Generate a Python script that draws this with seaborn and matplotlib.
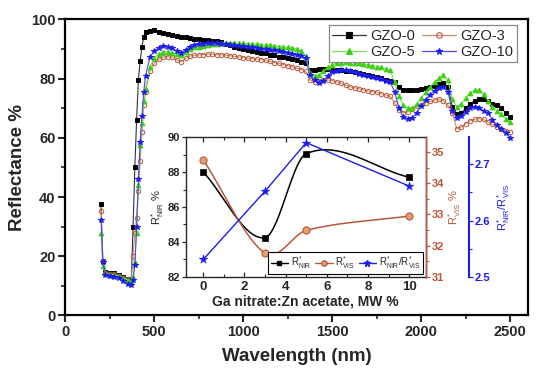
import numpy as np
import pandas as pd
import matplotlib
matplotlib.use("Agg")
import matplotlib.pyplot as plt
import seaborn as sns
from matplotlib.ticker import MultipleLocator
from matplotlib.lines import Line2D

sns.set_style("ticks")
plt.rcParams['font.family'] = ['Liberation Sans', 'DejaVu Sans']
plt.rcParams['mathtext.default'] = 'regular'

# ---------------- main spectra data ----------------
wavelength = [200, 210, 225, 250, 275, 300, 325, 350, 370, 380, 390, 400, 410, 420, 430, 440, 450,
              475, 500, 525, 550, 575, 600, 625, 650, 675, 700, 725, 750, 775, 800, 825, 850, 875,
              900, 925, 950, 975, 1000, 1025, 1050, 1075, 1100, 1125, 1150, 1175, 1200, 1225, 1250,
              1275, 1300, 1325, 1350, 1375, 1400, 1425, 1450, 1475, 1500, 1525, 1550, 1575, 1600,
              1625, 1650, 1675, 1700, 1725, 1750, 1775, 1800, 1825, 1850, 1875, 1900, 1925, 1950,
              1975, 2000, 2025, 2050, 2075, 2100, 2125, 2150, 2175, 2200, 2225, 2250, 2275, 2300,
              2325, 2350, 2375, 2400, 2425, 2450, 2475, 2500]

gzo0 = [37.5, 18.5, 14.7, 14.3, 14.2, 13.6, 13.0, 12.4, 11.9, 30.0, 50.0, 66.0, 79.5, 86.0, 90.8, 94.0, 95.6,
        96.2, 96.3, 95.8, 95.3, 95.0, 94.7, 94.4, 94.1, 93.9, 93.7, 93.5, 93.2, 93.0, 92.9, 92.8, 92.6, 92.2,
        91.8, 91.2, 90.6, 90.2, 89.9, 89.6, 89.3, 89.1, 88.8, 88.5, 88.1, 87.8, 87.4, 87.2, 86.8,
        86.5, 86.2, 85.7, 85.3, 82.9, 83.0, 83.1, 83.1, 83.1, 83.0, 83.0, 82.9, 82.7, 82.5,
        82.3, 82.0, 81.7, 81.3, 81.0, 80.6, 80.1, 79.6, 79.2, 78.8, 77.0, 76.3, 76.1, 76.2,
        76.3, 76.5, 76.8, 77.1, 77.6, 78.3, 78.6, 77.0, 70.5, 68.0, 68.3, 70.0, 71.5, 72.5,
        73.0, 73.2, 72.5, 71.5, 71.0, 70.0, 68.5, 67.1]

gzo3 = [35.2, 18.5, 14.5, 14.1, 14.0, 13.4, 12.8, 12.2, 11.7, 20.0, 28.0, 33.0, 42.0, 52.0, 62.0, 71.0, 75.5,
        82.5, 85.2, 86.6, 87.3, 87.4, 87.2, 86.3, 85.7, 86.8, 87.6, 87.8, 88.0, 88.1, 88.2, 88.2, 88.1, 88.0,
        87.9, 87.7, 87.5, 87.3, 87.1, 86.9, 86.7, 86.6, 86.4, 86.2, 85.8, 85.4, 85.1, 84.7, 84.4,
        84.0, 83.5, 83.0, 82.5, 79.5, 79.0, 79.2, 79.4, 79.5, 79.3, 78.9, 78.4, 77.8, 77.2,
        76.9, 76.5, 76.2, 75.8, 75.6, 75.4, 74.8, 74.5, 74.0, 71.8, 69.5, 68.5, 68.8, 69.8,
        70.6, 71.2, 71.8, 72.3, 72.7, 73.0, 72.5, 71.0, 68.5, 63.0, 63.5, 64.8, 65.8, 66.2,
        66.5, 66.2, 65.3, 64.5, 63.8, 63.0, 62.3, 62.0]

gzo5 = [27.7, 16.7, 14.3, 13.8, 13.7, 13.2, 12.7, 12.0, 11.6, 13.0, 18.0, 28.0, 44.0, 57.5, 65.0, 72.5, 76.5,
        84.0, 87.0, 88.3, 89.0, 89.1, 88.7, 88.2, 87.9, 89.0, 90.1, 90.5, 90.7, 91.0, 91.3, 91.6, 91.8, 92.0,
        92.1, 92.1, 92.1, 92.0, 91.9, 91.8, 91.7, 91.6, 91.5, 91.3, 91.2, 91.0, 90.8, 90.7, 90.5,
        90.3, 90.0, 89.4, 87.6, 82.0, 80.8, 81.3, 82.5, 83.8, 84.7, 85.2, 85.4, 85.5, 85.4,
        85.3, 85.1, 84.9, 84.6, 84.3, 84.0, 83.8, 83.3, 82.8, 79.0, 74.0, 71.0, 70.0, 70.2,
        71.5, 73.5, 75.5, 77.3, 78.8, 80.3, 81.1, 79.5, 73.0, 70.5, 71.5, 73.5, 75.2, 76.0,
        76.2, 74.8, 72.5, 70.3, 69.0, 68.0, 66.5, 65.4]

gzo10 = [32.4, 18.1, 13.6, 13.3, 13.0, 12.6, 11.5, 10.5, 10.2, 12.0, 17.0, 30.0, 46.0, 58.5, 67.5, 75.5, 81.0,
         87.2, 89.4, 90.4, 91.0, 90.8, 90.2, 89.3, 88.7, 89.8, 90.7, 91.2, 91.6, 91.8, 91.9, 91.9, 91.9, 91.8,
         91.7, 91.5, 91.3, 91.1, 90.9, 90.7, 90.5, 90.3, 90.1, 89.9, 89.7, 89.5, 89.2, 89.0, 88.6,
         88.3, 88.0, 87.5, 86.8, 81.2, 79.5, 78.4, 79.3, 81.0, 82.2, 82.7, 82.9, 82.8, 82.5,
         82.1, 81.7, 81.3, 81.0, 80.6, 80.1, 79.8, 79.3, 78.9, 75.5, 70.0, 67.0, 66.3, 66.8,
         68.5, 70.8, 72.8, 74.6, 75.9, 76.8, 77.3, 75.5, 69.0, 66.7, 67.3, 68.8, 70.0, 70.3,
         70.0, 69.2, 68.3, 66.0, 64.3, 63.0, 61.5, 60.0]

series_names = ["GZO-0", "GZO-3", "GZO-5", "GZO-10"]

# ---------------- inset data ----------------
ratio_mw = [0, 3, 5, 10]
r_nir = [88.0, 84.25, 89.05, 87.7]
r_vis = [34.75, 31.76, 32.49, 32.95]
r_ratio = [2.531, 2.652, 2.738, 2.661]

BLACK = '#000000'
BROWN = '#b8583a'
GREEN = '#3ccf14'
BLUE = '#1c1cf0'


def smooth_line(x, y, n=200):
    """Cubic Hermite (Catmull-Rom style) curve through the data points."""
    x = np.asarray(x, float)
    y = np.asarray(y, float)
    m = len(x)
    t = np.zeros(m)
    t[0] = (y[1] - y[0]) / (x[1] - x[0])
    t[-1] = (y[-1] - y[-2]) / (x[-1] - x[-2])
    for i in range(1, m - 1):
        t[i] = (y[i + 1] - y[i - 1]) / (x[i + 1] - x[i - 1])
    xs = np.linspace(x[0], x[-1], n)
    idx = np.clip(np.searchsorted(x, xs) - 1, 0, m - 2)
    h = x[idx + 1] - x[idx]
    s = (xs - x[idx]) / h
    h00 = 2 * s ** 3 - 3 * s ** 2 + 1
    h10 = s ** 3 - 2 * s ** 2 + s
    h01 = -2 * s ** 3 + 3 * s ** 2
    h11 = s ** 3 - s ** 2
    ys = h00 * y[idx] + h10 * h * t[idx] + h01 * y[idx + 1] + h11 * h * t[idx + 1]
    return xs, ys


fig = plt.figure(figsize=(5.5, 3.72), dpi=100)
ax = fig.add_axes([0.119, 0.152, 0.841, 0.796])

df = pd.DataFrame({"wl": wavelength, "GZO-0": gzo0, "GZO-3": gzo3, "GZO-5": gzo5, "GZO-10": gzo10})

styles = {
    "GZO-0": dict(marker='s', mfc=BLACK, mec=BLACK, ms=3.0, line='#333333'),
    "GZO-3": dict(marker='o', mfc='none', mec=BROWN, ms=3.2, line='#d08a70'),
    "GZO-5": dict(marker='^', mfc=GREEN, mec=GREEN, ms=3.4, line='#7adf5a'),
    "GZO-10": dict(marker='*', mfc=BLUE, mec=BLUE, ms=4.2, line='#4a4af0'),
}
handles = {}
for name in series_names:
    st = styles[name]
    sns.lineplot(data=df, x="wl", y=name, ax=ax, color=st['line'], lw=0.8,
                 marker=st['marker'], markersize=st['ms'], markerfacecolor=st['mfc'],
                 markeredgecolor=st['mec'], markeredgewidth=0.7, legend=False)
    handles[name] = Line2D([], [], color=st['line'], lw=0.9, marker=st['marker'], ms=st['ms'] + 0.8,
                           mfc=st['mfc'], mec=st['mec'], mew=0.8, label=name)

ax.set_xlim(0, 2600)
ax.set_ylim(0, 100)
ax.xaxis.set_major_locator(MultipleLocator(500))
ax.xaxis.set_minor_locator(MultipleLocator(250))
ax.yaxis.set_major_locator(MultipleLocator(20))
ax.yaxis.set_minor_locator(MultipleLocator(10))
ax.tick_params(which='major', direction='out', length=5, width=1.5, labelsize=10.5, pad=2)
ax.tick_params(which='minor', direction='out', length=3, width=1.2)
for lab in ax.get_xticklabels() + ax.get_yticklabels():
    lab.set_fontweight('bold')
for sp in ax.spines.values():
    sp.set_linewidth(1.6)
    sp.set_color('black')
ax.set_xlabel("Wavelength (nm)", fontsize=13.5, fontweight='bold', labelpad=6)
ax.set_ylabel("Reflectance %", fontsize=13.5, fontweight='bold', labelpad=4)

# column-wise fill -> rows read GZO-0, GZO-3 / GZO-5, GZO-10
leg_order = ["GZO-0", "GZO-5", "GZO-3", "GZO-10"]
leg = ax.legend(handles=[handles[n] for n in leg_order], ncol=2, loc='upper right',
                bbox_to_anchor=(0.976, 0.981),
                borderaxespad=0, fontsize=10.5, handlelength=2.3, handletextpad=0.3,
                columnspacing=0.5, borderpad=0.25, labelspacing=0.15, fancybox=False,
                edgecolor='#888888', framealpha=1)
leg.get_frame().set_linewidth(0.9)

# ---------------- inset ----------------
axin = fig.add_axes([0.338, 0.2554, 0.436, 0.3763])
axin.set_facecolor('white')
ax2 = axin.twinx()
ax3 = axin.twinx()
ax3.spines['right'].set_position(('outward', 31))

xs, ys = smooth_line(ratio_mw, r_nir)
sns.lineplot(x=xs, y=ys, ax=axin, color=BLACK, lw=1.1, legend=False)
sns.scatterplot(x=ratio_mw, y=r_nir, ax=axin, marker='s', s=22, color=BLACK, edgecolor=BLACK,
                linewidth=0.5, legend=False, zorder=3)

xs, ys = smooth_line(ratio_mw, r_vis)
sns.lineplot(x=xs, y=ys, ax=ax2, color=BROWN, lw=1.1, legend=False)
sns.scatterplot(x=ratio_mw, y=r_vis, ax=ax2, marker='o', s=26, color='#e0a070', edgecolor=BROWN,
                linewidth=0.8, legend=False, zorder=3)

sns.lineplot(x=ratio_mw, y=r_ratio, ax=ax3, color=BLUE, lw=1.0, legend=False)
sns.scatterplot(x=ratio_mw, y=r_ratio, ax=ax3, marker='*', s=45, color=BLUE, edgecolor=BLUE,
                linewidth=0.3, legend=False, zorder=3)

axin.set_xlim(-0.84, 10.8)
axin.set_ylim(82, 90)
ax2.set_ylim(31, 35.48)
ax3.set_ylim(2.5, 2.748)

axin.xaxis.set_major_locator(MultipleLocator(2))
axin.xaxis.set_minor_locator(MultipleLocator(1))
axin.yaxis.set_major_locator(MultipleLocator(2))
axin.yaxis.set_minor_locator(MultipleLocator(1))
ax2.yaxis.set_major_locator(MultipleLocator(1))
ax2.yaxis.set_minor_locator(MultipleLocator(0.5))
ax3.yaxis.set_major_locator(MultipleLocator(0.1))
ax3.yaxis.set_minor_locator(MultipleLocator(0.05))

axin.tick_params(axis='x', which='both', direction='in', top=True, bottom=True, labelsize=9.5, pad=3)
axin.tick_params(axis='x', which='major', length=3.5, width=0.9)
axin.tick_params(axis='x', which='minor', length=2, width=0.8)
axin.tick_params(axis='y', which='major', direction='out', length=3, width=0.9, labelsize=8, pad=1.5)
axin.tick_params(axis='y', which='minor', direction='out', length=2, width=0.8)
ax2.tick_params(axis='y', which='major', direction='out', length=3, width=0.9, labelsize=8, pad=1.5,
                colors=BROWN)
ax2.tick_params(axis='y', which='minor', direction='out', length=2, width=0.8, colors=BROWN)
ax3.tick_params(axis='y', which='major', direction='out', length=3, width=0.9, labelsize=8, pad=1.5,
                colors=BLUE)
ax3.tick_params(axis='y', which='minor', direction='out', length=2, width=0.8, colors=BLUE)

for a in (axin, ax2, ax3):
    for lab in a.get_xticklabels() + a.get_yticklabels():
        lab.set_fontweight('bold')
    for sp in a.spines.values():
        sp.set_linewidth(1.0)

ax2.spines['right'].set_color(BROWN)
ax3.spines['right'].set_color(BLUE)
ax3.spines['right'].set_linewidth(1.5)
for s in ('top', 'bottom', 'left'):
    ax3.spines[s].set_visible(False)
    ax2.spines[s].set_visible(False)

axin.set_xlabel("Ga nitrate:Zn acetate, MW %", fontsize=10, fontweight='bold', labelpad=1)
axin.set_ylabel(r"R$^{*}_{NIR}$ %", fontsize=8, labelpad=1)
ax2.set_ylabel(r"R$^{*}_{VIS}$ %", fontsize=8, color=BROWN, labelpad=1)
ax3.set_ylabel(r"R$^{*}_{NIR}$/R$^{*}_{VIS}$", fontsize=8, color=BLUE, labelpad=3)

ihandles = [
    Line2D([], [], color=BLACK, lw=1, marker='s', ms=3.5, label=r"R$^{*}_{NIR}$"),
    Line2D([], [], color=BROWN, lw=1, marker='o', ms=3.8, mfc='#e0a070', mec=BROWN, label=r"R$^{*}_{VIS}$"),
    Line2D([], [], color=BLUE, lw=1, marker='*', ms=5, label=r"R$^{*}_{NIR}$/R$^{*}_{VIS}$"),
]
ileg = ax3.legend(handles=ihandles, ncol=3, loc='lower right', bbox_to_anchor=(0.99, 0.02),
                  borderaxespad=0, fontsize=7, handlelength=1.8, handletextpad=0.25,
                  columnspacing=0.4, borderpad=0.3, fancybox=False, edgecolor='black', framealpha=1)
ileg.get_frame().set_linewidth(0.8)

fig.savefig("out.png", dpi=100)
